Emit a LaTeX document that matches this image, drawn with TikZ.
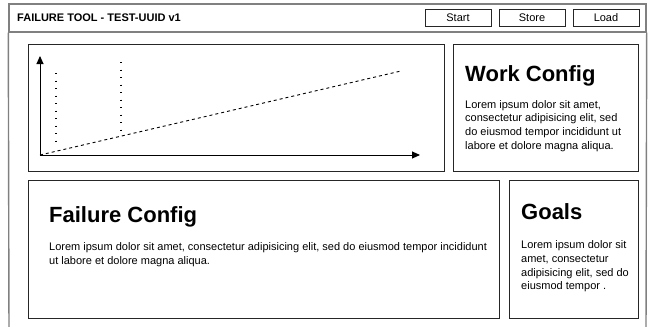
\documentclass[tikz,border=0pt]{standalone}
\usepackage{fontspec}
\setmainfont{Liberation Sans}
\usetikzlibrary{arrows.meta}
\begin{document}
\begin{tikzpicture}[x=1pt,y=-1pt,
  frameline/.style={draw=black!50,line width=1.4pt},
  panel/.style={draw=black!85,line width=0.9pt,inner sep=0pt},
  btn/.style={draw=black!85,line width=0.9pt,minimum width=66pt,minimum height=17pt,inner sep=0pt,font=\fontsize{11}{13}\selectfont},
  heading/.style={anchor=base west,inner sep=0pt,font=\fontsize{22}{26}\bfseries\selectfont},
  body/.style={anchor=north west,inner sep=0pt,align=left,font=\fontsize{11}{13.7}\selectfont},
  axis/.style={line width=0.9pt,-{Triangle[length=8pt,width=7pt]}},
  dotline/.style={line width=1.3pt,dash pattern=on 1.3pt off 6.2pt},
  dashline/.style={line width=0.9pt,dash pattern=on 3pt off 3pt}]
\useasboundingbox (0,0) rectangle (649,327);
\fill[white] (0,0) rectangle (649,327);
% outer frame
\coordinate (fl) at (9,335);
\coordinate (fr) at (646,335);
\node[frameline,minimum width=637pt,minimum height=28pt,inner sep=0pt] (bar) at (327.5,18) {};
\draw[frameline] (bar.south west) -- (fl);
\draw[frameline] (bar.south east) -- (fr);
% title and buttons
\node[anchor=west,inner sep=0pt,font=\fontsize{11}{13}\bfseries\selectfont] (title) at (17,18) {FAILURE TOOL - TEST-UUID v1};
\node[btn] (start) at (458,17.5) {Start};
\node[btn] (store) at (532,17.5) {Store};
\node[btn] (load) at (606,17.5) {Load};
% panels
\node[panel,minimum width=416pt,minimum height=127pt] (chart) at (236,107.5) {};
\node[panel,minimum width=185pt,minimum height=127pt] (work) at (545.5,107.5) {};
\node[panel,minimum width=471pt,minimum height=138pt] (fail) at (263.5,249) {};
\node[panel,minimum width=129pt,minimum height=138pt] (goals) at (573.5,249) {};
% chart
\coordinate (o) at (40,155);
\coordinate (ytip) at (40,56);
\coordinate (xtip) at (420,155);
\coordinate (d1a) at (56,73);
\coordinate (d1b) at (56,142);
\coordinate (d2a) at (121,62);
\coordinate (d2b) at (121,131);
\coordinate (trend) at (401,71);
\draw[dotline] (d1a) -- (d1b);
\draw[dotline] (d2a) -- (d2b);
\draw[dashline] (o) -- (trend);
\draw[axis] (o) -- (ytip);
\draw[axis] (o) -- (xtip);
% texts
\node[heading] (workh) at (465,81) {Work Config};
\node[body] (workb) at (465,100) {Lorem ipsum dolor sit amet,\\consectetur adipisicing elit, sed\\do eiusmod tempor incididunt ut\\labore et dolore magna aliqua.};
\node[heading] (failh) at (49,222.5) {Failure Config};
\node[body] (failb) at (49,242.5) {Lorem ipsum dolor sit amet, consectetur adipisicing elit, sed do eiusmod tempor incididunt\\ut labore et dolore magna aliqua.};
\node[heading] (goalsh) at (521,219.5) {Goals};
\node[body] (goalsb) at (521,240.5) {Lorem ipsum dolor sit\\amet, consectetur\\adipisicing elit, sed do\\eiusmod tempor .};
\end{tikzpicture}
\end{document}
